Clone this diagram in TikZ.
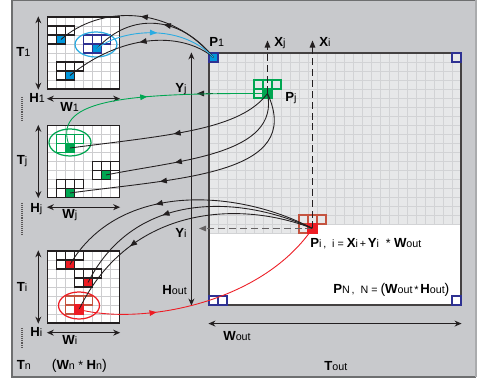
\documentclass[tikz,border=0pt]{standalone}
\usepackage{fontspec}
\setmainfont{Liberation Sans}
\usepackage{tikz}
\usetikzlibrary{arrows.meta,decorations.markings}
\definecolor{panelgray}{RGB}{200,201,204}
\definecolor{outfill}{RGB}{231,232,233}
\definecolor{gridgray}{RGB}{210,211,213}
\definecolor{tilegray}{RGB}{205,205,207}
\definecolor{cblue}{RGB}{0,150,219}
\definecolor{ccyan}{RGB}{41,171,226}
\definecolor{cnavy}{RGB}{46,49,146}
\definecolor{cgreen}{RGB}{0,166,81}
\definecolor{cred}{RGB}{237,28,36}
\definecolor{cbrown}{RGB}{196,84,64}
\definecolor{ink}{RGB}{35,31,32}
\tikzset{
  gline/.style={draw=gridgray, line width=0.55pt},
  tline/.style={draw=tilegray, line width=0.5pt},
  tilebox/.style={draw=ink, line width=0.8pt, minimum size=1.44cm, inner sep=0pt},
  outbox/.style={draw=ink!85, line width=0.7pt, minimum size=5.04cm, inner sep=0pt},
  nb/.style={line width=0.7pt},
  pix/.style={minimum size=0.18cm, inner sep=0pt, line width=0.7pt},
  link/.style={color=ink, line width=0.5pt},
  midarr/.style={postaction={decorate}, decoration={markings, mark=at position #1 with {\arrow{Triangle[length=4pt,width=3.2pt]}}}},
  dimarr/.style={{Stealth[length=4pt,width=3.4pt]}-{Stealth[length=4pt,width=3.4pt]}, draw=ink, line width=0.6pt},
  dasharr/.style={-{Triangle[length=4pt,width=3.2pt]}, color=ink, line width=0.6pt, dash pattern=on 4pt off 2.2pt},
  dotln/.style={draw=ink!75, line width=1pt, dash pattern=on 0.5pt off 0.6pt},
  lbl/.style={anchor=base west, inner sep=0pt},
}
\newcommand{\vn}[2]{{\bfseries\fontsize{7.5}{8}\selectfont #1}{\fontsize{6.1}{7}\selectfont #2}}
\newcommand{\sm}[1]{{\fontsize{6.1}{7}\selectfont #1}}
\newcommand{\tilegrid}[2]{%
  \fill[white] (#1,#2) rectangle ++(72,72);
  \foreach \k in {1,...,7}{
    \draw[tline] ({#1+9*\k},#2) -- ++(0,72);
    \draw[tline] (#1,{#2+9*\k}) -- ++(72,0);
  }
}
\newcommand{\nbhd}[3]{%
  \foreach \dx/\dy in {-9/-9,0/-9,9/-9,-9/0}
    \draw[nb,draw=#3] ({#1+\dx},{#2+\dy}) rectangle ++(9,9);
}

\begin{document}
\begin{tikzpicture}[x=0.02cm,y=-0.02cm]
  \useasboundingbox (0,0) rectangle (477,381);
  % panel
  \fill[panelgray] (12,0) rectangle (476,377);
  \draw[panelgray!55!black, line width=0.6pt] (476,377) -- (12,377) -- (12,0.5) -- (476,0.5);
  \draw[panelgray!85!black, line width=0.6pt] (476,0) -- (476,377);

  % output image
  \fill[white] (209,53) rectangle (461,305);
  \fill[outfill] (209,53) -- (461,53) -- (461,224) -- (317,224) -- (317,233) -- (209,233) -- cycle;
  \foreach \k in {1,...,27}{\draw[gline] ({209+9*\k},53) -- ({209+9*\k},224);}
  \foreach \k in {1,...,12}{\draw[gline] ({209+9*\k},224) -- ({209+9*\k},233);}
  \foreach \k in {1,...,19}{\draw[gline] (209,{53+9*\k}) -- (461,{53+9*\k});}
  \draw[gline] (209,233) -- (317,233);
  \node[outbox] (out) at (335,179) {};
  \foreach \cx/\cy in {452/53,209/296,218/296,452/296}{\draw[nb,cnavy] (\cx,\cy) rectangle ++(9,9);}
  \nbhd{263}{89}{cgreen}
  \nbhd{308}{224}{cbrown}
  \node[pix, fill=cblue, draw=cnavy] (P1) at (213.5,57.5) {};
  \node[pix, fill=cgreen, draw=cgreen] (Pj) at (267.5,93.5) {};
  \node[pix, fill=cred, draw=cred] (Pi) at (312.5,228.5) {};

  % tiles
  \tilegrid{47.5}{17}
  \node[tilebox] (tile1) at (83.5,53) {};
  \nbhd{56.5}{35}{ink}
  \nbhd{92.5}{44}{cnavy}
  \nbhd{65.5}{71}{ink}
  \node[pix, fill=cblue, draw=ink] (b1) at (61,39.5) {};
  \node[pix, fill=cblue, draw=cnavy] (b2) at (97,48.5) {};
  \node[pix, fill=cblue, draw=ink] (b3) at (70,75.5) {};
  \draw[ccyan, line width=0.7pt] (96,44.5) ellipse [x radius=0.42cm, y radius=0.25cm];

  \tilegrid{47.5}{125.5}
  \node[tilebox] (tilej) at (83.5,161.5) {};
  \nbhd{65.5}{143.5}{cgreen}
  \nbhd{101.5}{170.5}{ink}
  \nbhd{65.5}{188.5}{ink}
  \node[pix, fill=cgreen, draw=cgreen] (g1) at (70,148) {};
  \node[pix, fill=cgreen, draw=ink] (g2) at (106,175) {};
  \node[pix, fill=cgreen, draw=ink] (g3) at (70,193) {};
  \draw[cgreen, line width=0.7pt] (70,142.5) ellipse [x radius=0.42cm, y radius=0.27cm];

  \tilegrid{47.5}{251}
  \node[tilebox] (tilei) at (83.5,287) {};
  \nbhd{65.5}{260}{ink}
  \nbhd{83.5}{278}{ink}
  \nbhd{74.5}{305}{cbrown}
  \node[pix, fill=cred, draw=ink] (r1) at (70,264.5) {};
  \node[pix, fill=cred, draw=ink] (r2) at (88,282.5) {};
  \node[pix, fill=cred, draw=cred] (r3) at (79,309.5) {};
  \draw[cred, line width=0.7pt] (79,305.5) ellipse [x radius=0.41cm, y radius=0.27cm];

  % dimensions
  \foreach \t in {tile1,tilej,tilei}{
    \draw[dimarr] ([xshift=-0.17cm]\t.north west) -- ([xshift=-0.17cm]\t.south west);
    \draw[dimarr] ([yshift=-0.18cm]\t.south west) -- ([yshift=-0.18cm]\t.south east);
  }
  \draw[dimarr] ([xshift=-0.34cm]out.north west) -- ([xshift=-0.34cm]out.south west);
  \draw[dimarr] ([yshift=-0.36cm]out.south west) -- ([yshift=-0.36cm]out.south east);
  \foreach \ya/\yb in {97/122,203/234,328/348}{\draw[dotln] (22,\ya) -- (22,\yb);}

  % coordinates
  \coordinate (xj) at (267.5,40.5);
  \coordinate (yj) at (197,93.5);
  \coordinate (xi) at (312.5,40.5);
  \coordinate (yi) at (199,228.5);
  \draw[dasharr] (Pj.center) -- (xj);
  \draw[dasharr] (Pj.center) -- (yj);
  \draw[dasharr] (Pi.center) -- (xi);
  \draw[dasharr, color=ink!70] (Pi.center) -- (yi);

  % links to tile 1
  \draw[link, midarr=0.5] (P1.center) .. controls (170,5) and (100,5) .. (b1.center);
  \draw[link, midarr=0.45] (P1.center) .. controls (180,15) and (130,12) .. (b2.center);
  \draw[link, midarr=0.5] (P1.center) .. controls (180,30) and (120,35) .. (b3.center);
  \draw[link, color=ccyan, midarr=0.5] (b2.center) .. controls (120,30) and (180,22) .. (P1.center);
  % links to tile j
  \draw[link, color=cgreen, midarr=0.48] (g1.center) .. controls (50,100) and (120,93) .. (Pj.center);
  \draw[link, midarr=0.5] (Pj.center) .. controls (240,130) and (170,135) .. (g1.center);
  \draw[link, midarr=0.65] (Pj.center) .. controls (280,155) and (180,160) .. (g2.center);
  \draw[link, midarr=0.65] (Pj.center) .. controls (305,175) and (180,178) .. (g3.center);
  % links to tile i
  \draw[link, midarr=0.6] (Pi.center) .. controls (240,190) and (120,180) .. (r1.center);
  \draw[link, midarr=0.6] (Pi.center) .. controls (240,195) and (135,190) .. (r2.center);
  \draw[link, midarr=0.7] (Pi.center) .. controls (240,200) and (130,205) .. (r3.center);
  \draw[link, color=cred, midarr=0.3] (r3.center) .. controls (140,325) and (260,305) .. (Pi.center);

  % labels
  \node[lbl] (t1l) at (16,57) {\vn{T}{1}};
  \node[lbl] (h1l) at (29,103) {\vn{H}{1}};
  \node[lbl] (w1l) at (60,111.5) {\vn{W}{1}};
  \node[lbl] (tjl) at (16.5,165) {\vn{T}{j}};
  \node[lbl] (hjl) at (30,212.5) {\vn{H}{j}};
  \node[lbl] (wjl) at (62,219) {\vn{W}{j}};
  \node[lbl] (til) at (16.5,292) {\vn{T}{i}};
  \node[lbl] (hil) at (30,336.5) {\vn{H}{i}};
  \node[lbl] (wil) at (62,345) {\vn{W}{i}};
  \node[lbl] (tnl) at (16.5,370) {\vn{T}{n}};
  \node[lbl] (whn) at (51.5,370) {{\fontsize{8}{9}\selectfont(}\vn{W}{n}{\fontsize{7}{8}\selectfont\ *\ }\vn{H}{n}{\fontsize{8}{9}\selectfont)}};
  \node[lbl] (p1l) at (209,46.5) {\vn{P}{1}};
  \node[lbl] (xjl) at (274,46.5) {\vn{X}{j}};
  \node[lbl] (xil) at (319,46.5) {\vn{X}{i}};
  \node[lbl] (yjl) at (175,93) {\vn{Y}{j}};
  \node[lbl] (pjl) at (285,101.5) {\vn{P}{j}};
  \node[lbl] (yil) at (175,237.5) {\vn{Y}{i}};
  \node[lbl] (houtl) at (162,295) {\vn{H}{out}};
  \node[lbl] (pil) at (310,248) {\vn{P}{i}\sm{\,,\ \ i = }\vn{X}{i}\sm{\,+\,}\vn{Y}{i}{\fontsize{7}{8}\selectfont\ \ *\ }\vn{W}{out}};
  \node[lbl] (pnl) at (333,294) {\vn{P}{N}\sm{\,,\ \ N = }{\fontsize{8}{9}\selectfont(}\vn{W}{out}\sm{\,*\,}\vn{H}{out}{\fontsize{8}{9}\selectfont)}};
  \node[lbl] (woutl) at (223,341) {\vn{W}{out}};
  \node[lbl] (toutl) at (324,371) {\vn{T}{out}};
\end{tikzpicture}
\end{document}
